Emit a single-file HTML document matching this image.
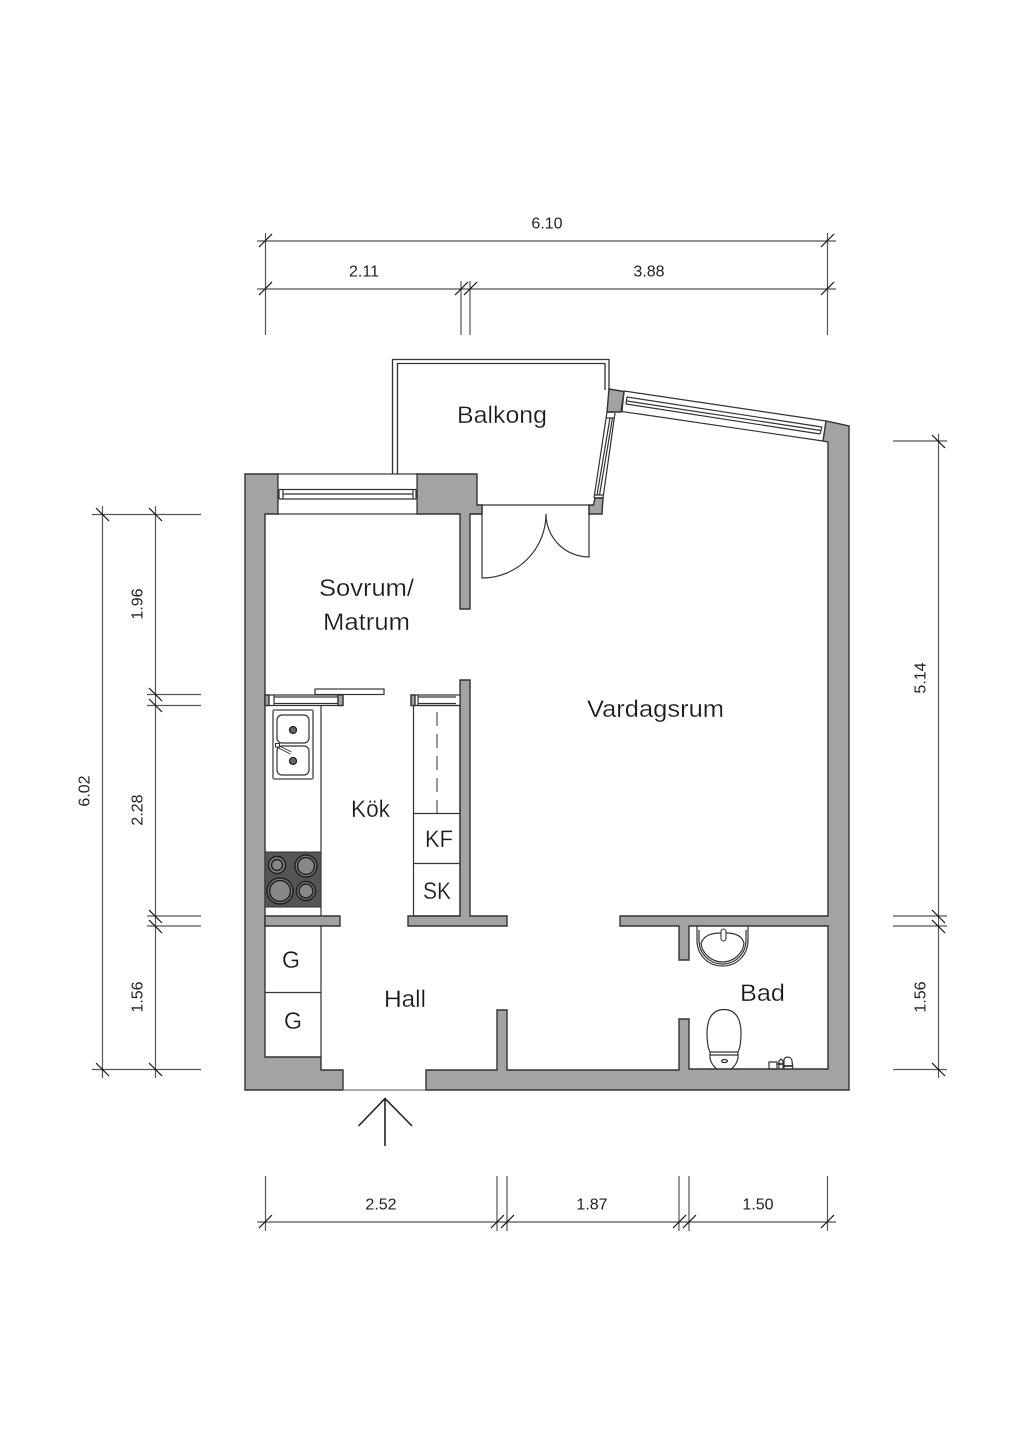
<!DOCTYPE html>
<html><head><meta charset="utf-8"><style>
html,body{margin:0;padding:0;background:#fff}
svg{display:block}
text{font-family:"Liberation Sans",sans-serif;fill:#1a1a1a}
.r{font-size:24.500px;stroke:#fff;stroke-width:.25px}
.d{font-size:16px;text-anchor:middle;fill:#222}
.w{fill:#a3a3a3;stroke:#333;stroke-width:1.4}
.l{fill:none;stroke:#333;stroke-width:1.3}
.t{fill:#fff;stroke:#333;stroke-width:1.2}
.k{fill:none;stroke:#333;stroke-width:1.2}
</style></head><body>
<svg width="1024" height="1448" viewBox="0 0 1024 1448" xmlns="http://www.w3.org/2000/svg">
<rect width="1024" height="1448" fill="#fff"/>

<!-- balcony railing -->
<path class="l" d="M392.500 474V359.500H609V390M397.500 474V363.500H605V390"/>

<!-- main walls -->
<path class="w" d="M245 474H278V514H265V1057H321V1070H343V1090H245Z"/>
<path class="w" d="M417 474H477V505H482V514H470V609H460V514H417Z"/>
<path class="w" d="M426 1090V1070H497V1010H507V1070H679V1019H689V1069H828V926H689V960H679V926H620V916H828V442L823 441L826 421L849 426V1090Z"/>
<path class="w" d="M589 505H593.500L595 498H603L602 514H589Z"/>
<path class="w" d="M609 389L624 391.500L621 412L607 412Z"/>
<path class="w" d="M265 916H340V926H265Z"/>
<path class="w" d="M408 916H460V680H470V916H507V926H408Z"/>
<path d="M343 1090H426" stroke="#777" stroke-width="1.2"/>

<!-- north-west window -->
<rect class="t" x="278" y="474" width="139" height="40"/>
<path class="k" d="M279 489.500H416M279 499H416M283 494H413M279 489.500V499M283 489.500V499M413 489.500V499M416 489.500V499"/>

<!-- long angled window -->
<path class="k" d="M624 391L826 421M622 411.500L823 441M627 397L822 427M627 401L821 430.500M626 404L820 434M624 392L622 411.500M627 397L626 404M822 427L820 434"/>

<!-- balcony window -->
<path class="k" d="M607 412L594 498M615 413L603 498M610 418L597 495M612.500 418L599.500 495M607 412H615M606 418H614M595 495H603M594 498H603"/>

<!-- balcony door -->
<path class="k" d="M482 505H589M482 505V578A64 64 0 0 0 546 514M589 505V557A43 43 0 0 1 546 514"/>
<path d="M470 514H482" stroke="#333" stroke-width="1.3"/>

<!-- kitchen window left -->
<rect class="t" x="265" y="695" width="78" height="10.500"/>
<rect class="w" x="265" y="695" width="4" height="10.500"/>
<rect class="w" x="338" y="695" width="5" height="10.500"/>
<path class="k" d="M274 697H338M274 703.500H338M274 695V705"/>
<rect class="t" x="315" y="689" width="69" height="5.500"/>

<!-- kitchen window right -->
<rect class="t" x="411" y="695" width="49" height="10.500"/>
<rect class="w" x="411" y="695" width="4" height="10.500"/>
<path class="k" d="M418 697H456M418 703.500H456M418 695V705"/>

<!-- cabinets -->
<path class="k" d="M321 705V916M321 926V1057M265 992.500H321"/>
<rect class="k" x="413.500" y="705.500" width="46.500" height="210.500"/>
<path class="k" d="M413.500 813.500H460M413.500 863.500H460"/>
<path d="M437 712V813" stroke="#444" stroke-width="1.1" fill="none" stroke-dasharray="14 8"/>

<!-- sink -->
<rect x="273" y="710" width="40" height="69" rx="1.500" fill="#fff" stroke="#777" stroke-width="1.800"/>
<rect class="k" x="277" y="715" width="32" height="28" rx="5"/>
<rect class="k" x="277" y="746" width="32" height="29" rx="5"/>
<circle cx="293" cy="730" r="3.500" fill="#666" stroke="#222" stroke-width="1.300"/>
<circle cx="293" cy="761" r="3.500" fill="#666" stroke="#222" stroke-width="1.300"/>
<path d="M277 746L291 753" stroke="#333" stroke-width="3.200"/>
<path d="M277 746L291 753" stroke="#fff" stroke-width="1.300"/>
<rect x="275.500" y="743.500" width="4" height="3.500" fill="#fff" stroke="#333"/>

<!-- stove -->
<rect x="265" y="852" width="56" height="55" fill="#555" stroke="#333"/>
<g fill="#888" stroke="#1f1f1f" stroke-width="1.500">
<circle cx="277" cy="865" r="8.500"/><circle cx="277" cy="865" r="5.500"/>
<circle cx="306" cy="866" r="11"/><circle cx="306" cy="866" r="8.500"/>
<circle cx="280" cy="891" r="13"/><circle cx="280" cy="891" r="10.500"/>
<circle cx="306" cy="891" r="9.500"/><circle cx="306" cy="891" r="7"/>
</g>

<!-- basin -->
<path class="k" d="M697 926V940C697 955 708 966 722.500 966C737 966 748 955 748 940V926"/>
<path class="k" d="M699 930V940C699 953 709 964 722.500 964C736 964 746 953 746 940V930"/>
<path class="k" d="M701 943C704 936 710 933 721 933H726C736 933 742 936 744 943C743 954 733 962 722.500 962C712 962 702 954 701 943Z"/>
<rect x="721" y="929" width="5" height="12" rx="2.500" fill="#fff" stroke="#333" stroke-width="1.100"/>

<!-- toilet -->
<path class="k" d="M707 1033C707 1018 713 1009.500 724 1009.500C735 1009.500 741 1018 741 1033C741 1042 740 1048 738 1052H710C708 1048 707 1042 707 1033Z"/>
<path class="k" d="M710 1052V1058C711 1063 714 1067 717 1069M738 1052V1058C737 1063 734 1067 731 1069M710 1055H738"/>
<ellipse class="k" cx="724.500" cy="1061" rx="3" ry="1.500"/>

<!-- bathroom fixture -->
<path class="k" d="M769 1062H777V1069H769ZM779 1069V1061L781 1059L783 1061V1069M784 1069V1060C784 1056 792 1056 792 1061L793 1069"/>
<path d="M777 1064H784M784 1066H792" stroke="#333" stroke-width="1.800"/>

<!-- room labels -->
<text class="r" x="457" y="423" textLength="90" lengthAdjust="spacingAndGlyphs">Balkong</text>
<text class="r" x="319" y="596" textLength="95" lengthAdjust="spacingAndGlyphs">Sovrum/</text>
<text class="r" x="323" y="630" textLength="87" lengthAdjust="spacingAndGlyphs">Matrum</text>
<text class="r" x="587" y="717" textLength="137" lengthAdjust="spacingAndGlyphs">Vardagsrum</text>
<text class="r" x="351" y="817" textLength="39" lengthAdjust="spacingAndGlyphs">Kök</text>
<text class="r" x="425" y="847" textLength="28" lengthAdjust="spacingAndGlyphs">KF</text>
<text class="r" x="423" y="899" textLength="28" lengthAdjust="spacingAndGlyphs">SK</text>
<text class="r" x="282" y="968" textLength="18" lengthAdjust="spacingAndGlyphs">G</text>
<text class="r" x="284" y="1029" textLength="18" lengthAdjust="spacingAndGlyphs">G</text>
<text class="r" x="384" y="1007" textLength="42" lengthAdjust="spacingAndGlyphs">Hall</text>
<text class="r" x="740" y="1001" textLength="45" lengthAdjust="spacingAndGlyphs">Bad</text>

<!-- entrance arrow -->
<path d="M385 1146V1098M358.500 1126L385 1098.500L412 1126" fill="none" stroke="#222" stroke-width="1.600"/>

<!-- dimensions -->
<g fill="none" stroke="#555" stroke-width="1.200">
<path d="M257 241H836M257 289H836M265.500 233V335M827.500 233V335M461 281V335M470 281V335"/>
<path d="M102.500 506V1078M155.500 506V1078M92 514.500H201M92 1069.500H201M147 694.500H201M147 705.500H201M147 916H201M147 926H201"/>
<path d="M938.500 434V1078M893 441H947M893 916H947M893 926H947M893 1069.500H947"/>
<path d="M257 1222H836M265.500 1176V1231M497 1176V1231M507 1176V1231M679 1176V1231M689 1176V1231M827.500 1176V1231"/>
</g>
<g fill="none" stroke="#111" stroke-width="1.200">
<path d="M259 247L272 234M259 295L272 282M821 247L834 234M821 295L834 282M455 295L468 282M464 295L477 282"/>
<path d="M96 508L109 521M96 1063L109 1076M149 508L162 521M149 1063L162 1076M149 688L162 701M149 699L162 712M149 910L162 923M149 920L162 933"/>
<path d="M932 435L945 448M932 910L945 923M932 920L945 933M932 1063L945 1076"/>
<path d="M259 1228L272 1215M491 1228L504 1215M501 1228L514 1215M673 1228L686 1215M683 1228L696 1215M821 1228L834 1215"/>
</g>
<text class="d" x="547" y="228.500">6.10</text>
<text class="d" x="364" y="276.500">2.11</text>
<text class="d" x="649" y="276.500">3.88</text>
<text class="d" x="381" y="1209.500">2.52</text>
<text class="d" x="592" y="1209.500">1.87</text>
<text class="d" x="758" y="1209.500">1.50</text>
<text class="d" transform="translate(89.500 791) rotate(-90)">6.02</text>
<text class="d" transform="translate(142.500 604) rotate(-90)">1.96</text>
<text class="d" transform="translate(142.500 810) rotate(-90)">2.28</text>
<text class="d" transform="translate(142.500 997) rotate(-90)">1.56</text>
<text class="d" transform="translate(925.500 678) rotate(-90)">5.14</text>
<text class="d" transform="translate(925.500 997) rotate(-90)">1.56</text>
</svg>
</body></html>
